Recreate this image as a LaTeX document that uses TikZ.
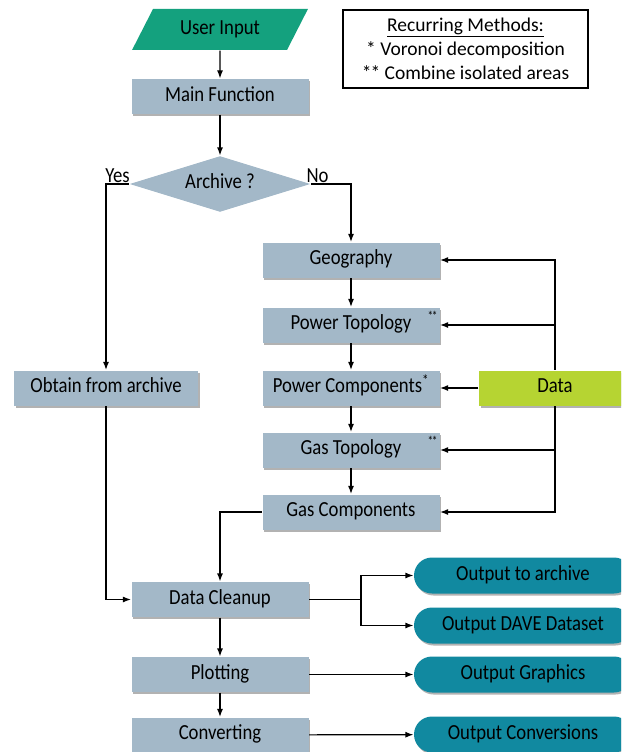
\documentclass[tikz,border=0pt]{standalone}
\usepackage{fontspec}
\setmainfont{Carlito}
\newfontfamily\nodefont{Carlito}[FakeStretch=0.87]
\usetikzlibrary{shapes.geometric,arrows.meta,shadows}
\definecolor{boxblue}{RGB}{163,184,200}
\definecolor{inputgreen}{RGB}{20,161,126}
\definecolor{datalime}{RGB}{182,212,50}
\definecolor{outteal}{RGB}{17,137,160}
\tikzset{
  boxshadow/.style={drop shadow={shadow xshift=1.5pt, shadow yshift=-2pt, opacity=0.3, fill=black}},
  stepbox/.style={rectangle, fill=boxblue, minimum width=177pt, minimum height=35pt, inner sep=0pt, text height=14pt, text depth=4.5pt, boxshadow},
  inputbox/.style={trapezium, trapezium left angle=56, trapezium right angle=124, trapezium stretches=true, fill=inputgreen, minimum width=176pt, minimum height=41pt, inner sep=0pt, text height=14pt, text depth=4.5pt},
  choicebox/.style={diamond, aspect=3.23, fill=boxblue, minimum width=181pt, minimum height=56pt, inner sep=0pt, text height=14pt, text depth=4.5pt},
  databox/.style={rectangle, fill=datalime, minimum width=152pt, minimum height=35pt, inner sep=0pt, text height=14pt, text depth=4.5pt, boxshadow},
  outbox/.style={rectangle, rounded corners=18pt, fill=outteal, minimum width=218pt, minimum height=36pt, inner sep=0pt, text height=14pt, text depth=4.5pt, boxshadow},
  notebox/.style={rectangle, draw, line width=1.2pt, minimum width=245pt, minimum height=78pt, align=center, font=\fontsize{19.5}{24}\selectfont},
  starmark/.style={font=\nodefont\fontsize{13}{13}\selectfont, inner sep=0pt}
}
\begin{document}
\begin{tikzpicture}[x=1pt, y=-1pt, font=\nodefont\fontsize{21.5}{24}\selectfont, >={Latex[length=8pt,width=6pt]}, line width=1.2pt]
\clip (0,0) rectangle (621,752);
\node[inputbox] (input) at (220,29.5) {User Input};
\node[notebox] (methods) at (465.5,49) {\underline{Recurring Methods:}\\* Voronoi decomposition\\*\kern-1pt* Combine isolated areas};
\node[stepbox] (main) at (220,96.5) {Main Function};
\node[choicebox] (archive) at (220,184) {Archive ?};
\node[stepbox] (geo) at (351,260) {Geography};
\node[stepbox, label={[starmark, anchor=north east, xshift=-2pt, yshift=-4pt]north east:*\kern-1.5pt*}] (ptopo) at (351,325) {Power Topology};
\node[stepbox] (pcomp) at (351,388) {Power Components\textsuperscript{*}};
\node[stepbox, label={[starmark, anchor=north east, xshift=-2pt, yshift=-4pt]north east:*\kern-1.5pt*}] (gtopo) at (351,450) {Gas Topology};
\node[stepbox] (gcomp) at (351,512) {Gas Components};
\node[stepbox, minimum width=184pt] (obtain) at (106,388) {Obtain from archive};
\node[databox] (data) at (555,388) {Data};
\node[stepbox] (cleanup) at (220,599.5) {Data Cleanup};
\node[stepbox] (plot) at (220,674.5) {Plotting};
\node[stepbox] (convert) at (220,735) {Converting};
\node[outbox] (outarch) at (523,575.5) {Output to archive};
\node[outbox] (outdave) at (523,625.5) {Output DAVE Dataset};
\node[outbox] (outgraph) at (523,674.5) {Output Graphics};
\node[outbox] (outconv) at (523,734.5) {Output Conversions};
\coordinate (fork) at (361,599.5);
\draw[->] (input) -- (main);
\draw[->] (main) -- (archive);
\draw[->] (archive.west) -| node[pos=0.25, above, inner sep=1pt] {Yes} (obtain.north);
\draw[->] (archive.east) -| node[pos=0.08, above, inner sep=1pt] {No} (geo.north);
\draw[->] (geo) -- (ptopo);
\draw[->] (ptopo) -- (pcomp);
\draw[->] (pcomp) -- (gtopo);
\draw[->] (gtopo) -- (gcomp);
\draw[->] (data.north) |- (geo.east);
\draw[->] (data.north) |- (ptopo.east);
\draw[->] (data.west) -- (pcomp.east);
\draw[->] (data.south) |- (gtopo.east);
\draw[->] (data.south) |- (gcomp.east);
\draw[->] (gcomp.west) -| (cleanup.north);
\draw[->] (obtain.south) |- (cleanup.west);
\draw (cleanup.east) -- (fork);
\draw[->] (fork) |- (outarch.west);
\draw[->] (fork) |- (outdave.west);
\draw[->] (cleanup) -- (plot);
\draw[->] (plot) -- (convert);
\draw[->] (plot) -- (outgraph);
\draw[->] (convert) -- (outconv);
\end{tikzpicture}
\end{document}
